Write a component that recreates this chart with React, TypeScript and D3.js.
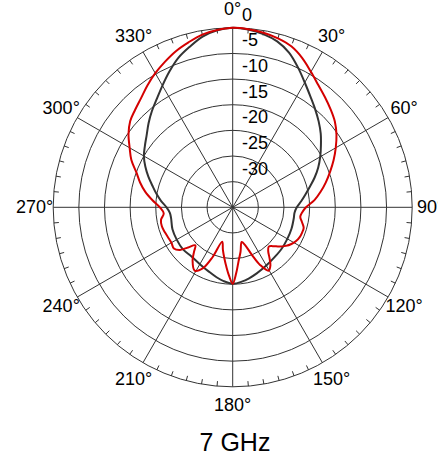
import React from "react";
import * as d3 from "d3";

const ringValues = [0, -5, -10, -15, -20, -25, -30];
const angleLabels = [0, 30, 60, 90, 120, 150, 180, 210, 240, 270, 300, 330];
const title = "7 GHz";

const blackAngles = [0, 5, 10, 15, 20, 25, 30, 35, 40, 45, 50, 55, 60, 65, 70, 75, 80, 85, 90, 95, 100, 110, 120, 130, 140, 150, 160, 167, 173, 180, 187, 193, 200, 210, 220, 230, 240, 250, 260, 265, 270, 275, 280, 285, 290, 295, 300, 305, 310, 315, 320, 325, 330, 335, 340, 345, 350, 355];
const blackValues = [0, -0.2, -0.7, -1.5, -2.9, -4.9, -6.9, -8.6, -10.0, -11.3, -12.6, -14.0, -15.3, -16.6, -18.0, -19.4, -20.6, -21.6, -22.5, -22.9, -22.9, -22.8, -22.7, -22.5, -22.3, -21.9, -21.3, -20.8, -20.4, -20.1, -20.5, -21.0, -21.6, -22.2, -22.5, -22.3, -22.4, -22.5, -22.8, -22.7, -22.1, -21.0, -19.9, -18.8, -17.5, -16.2, -15.0, -14.1, -13.1, -11.8, -10.5, -9.2, -7.6, -5.8, -4.0, -2.6, -1.2, -0.35];

const redAngles = [0, 5, 10, 15, 20, 25, 30, 35, 40, 45, 50, 55, 60, 65, 70, 75, 80, 85, 90, 94, 98, 102, 106, 110, 114, 118, 122, 126, 130, 134, 137.5, 141, 144, 147, 150.5, 154.5, 158, 162, 165.5, 170, 174, 177, 180, 183, 186, 189, 193, 197, 202, 206, 211, 217, 221, 224.5, 228, 231, 235, 240, 245, 250, 255, 260, 265, 270, 275, 280, 285, 290, 295, 300, 305, 310, 315, 320, 325, 330, 335, 340, 345, 350, 355];
const redValues = [0, -0.15, -0.45, -0.9, -1.6, -2.9, -4.5, -5.9, -7.0, -8.0, -9.0, -10.3, -11.8, -13.3, -14.8, -16.2, -17.6, -19.0, -20.7, -21.4, -21.7, -21.2, -20.6, -20.6, -20.7, -21.0, -21.5, -22.2, -23.1, -24.1, -24.6, -24.0, -22.8, -21.5, -20.8, -22.5, -25.0, -27.3, -28.0, -26.2, -24.3, -22.1, -20.1, -21.6, -23.3, -24.8, -26.5, -28.0, -24.5, -21.8, -20.6, -22.0, -23.5, -24.6, -23.3, -21.8, -21.0, -21.2, -21.1, -20.9, -20.7, -20.8, -21.5, -20.8, -19.3, -17.7, -16.3, -15.0, -13.2, -11.8, -10.2, -8.9, -8.1, -7.2, -6.0, -4.8, -3.7, -2.6, -1.7, -0.8, -0.3];

const W = 438;
const H = 462;
const cx = 232.7;
const cy = 207.3;
const R = 179.5;
const font = "'Liberation Sans', Arial, Helvetica, sans-serif";
const gridColor = "#333";

export default function App() {
  const r = d3.scaleLinear().domain([-35, 0]).range([0, R]);
  const rad = (a: number) => (a * Math.PI) / 180;
  const px = (a: number, rr: number) => cx + rr * Math.sin(rad(a));
  const py = (a: number, rr: number) => cy - rr * Math.cos(rad(a));

  const line = d3
    .lineRadial<[number, number]>()
    .angle((d) => rad(d[0]))
    .radius((d) => r(d[1]))
    .curve(d3.curveCatmullRomClosed.alpha(0.5));

  const blackPts = blackAngles.map((a, i) => [a, blackValues[i]] as [number, number]);
  const redPts = redAngles.map((a, i) => [a, redValues[i]] as [number, number]);

  const ticks = d3.range(0, 360, 5).filter((a) => a % 30 !== 0);

  return (
    <svg width={W} height={H} style={{ position: "absolute", left: 0, top: 0, background: "#fff" }}>
      <g fill="none" stroke={gridColor} strokeWidth={1}>
        {ringValues.map((v) => (
          <circle key={v} cx={cx} cy={cy} r={r(v)} />
        ))}
        {angleLabels.map((a) => (
          <line key={a} x1={cx} y1={cy} x2={px(a, R)} y2={py(a, R)} />
        ))}
        {ticks.map((a) => (
          <line key={a} x1={px(a, R)} y1={py(a, R)} x2={px(a, R - 5)} y2={py(a, R - 5)} />
        ))}
      </g>
      <g transform={`translate(${cx},${cy})`} fill="none" strokeWidth={2} strokeLinejoin="round">
        <path d={line(blackPts) || ""} stroke="#333" />
        <path d={line(redPts) || ""} stroke="#d40000" />
      </g>
      <g fontFamily={font} fontSize={18} fill="#000">
        {angleLabels.map((a) => (
          <text key={a} x={px(a, 198)} y={py(a, 198)} textAnchor="middle" dominantBaseline="central">
            {a}°
          </text>
        ))}
        {ringValues.map((v) => (
          <text key={v} x={242} y={cy - r(v) - 7}>
            {v}
          </text>
        ))}
      </g>
      <text x={235} y={451} textAnchor="middle" fontFamily={font} fontSize={25} fill="#000">
        {title}
      </text>
    </svg>
  );
}
